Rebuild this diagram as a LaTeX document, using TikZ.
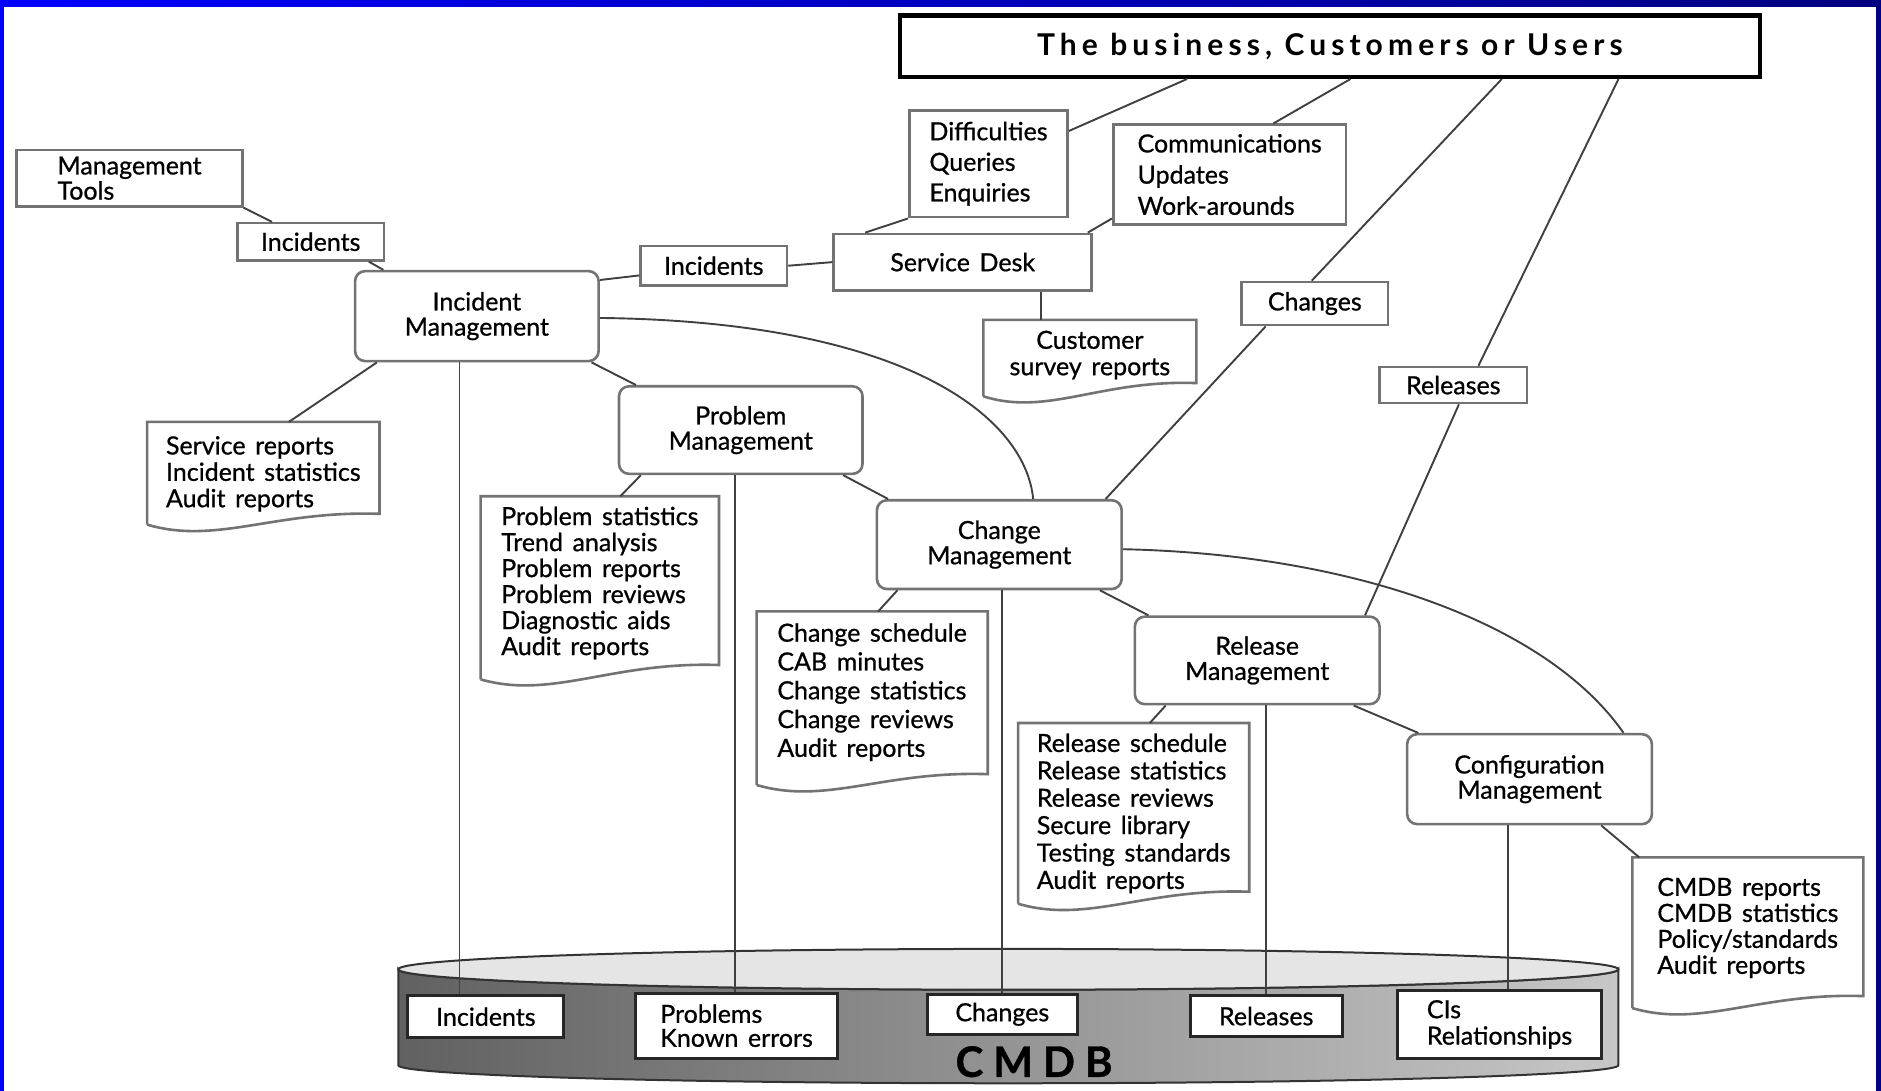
\documentclass[tikz,border=0pt]{standalone}
\usepackage{fontspec}
\setmainfont{Lato}[WordSpace={1.5},FakeBold=0.8]
\newfontfamily\bizfont{Lato}[LetterSpace=17]
\usetikzlibrary{calc}
\newcommand\docout[3]{%
  \draw[docline] ($(#1.south west)+(0,#2)$) -- (#1.north west) -- (#1.north east) -- ($(#1.south east)+(0,#3)$)
    .. controls ($(#1.south east)!0.45!(#1.south west)+(0,#3-3)$) and ($(#1.south east)!0.7!(#1.south west)+(0,#2+17)$) .. ($(#1.south west)+(0,#2)$);
}
\begin{document}
\begin{tikzpicture}[x=0.6pt,y=-0.6pt,
  sz/.style 2 args={minimum width=#1*0.6pt, minimum height=#2*0.6pt},
  bs/.style={font=\fontsize{12.5}{#1}\selectfont},
  plainbox/.style={draw=black!55, line width=1.3pt, fill=white, inner sep=0pt, align=left, bs=13.2pt},
  mgmt/.style={plainbox, rounded corners=5pt, align=center, bs=12.6pt},
  docnode/.style={inner sep=0pt, align=left, bs=13.2pt},
  docline/.style={draw=black!55, line width=1.3pt},
  dbbox/.style={plainbox, draw=black!85, line width=1.5pt},
  conn/.style={draw=black!75, line width=0.95pt}]
\useasboundingbox (0,0) rectangle (1568,909);
% frame
\fill[left color=blue, right color=blue!50!black] (0,0) rectangle (1568,909);
\fill[white] (3.3,5.8) rectangle (1563.5,909.5);
% CMDB cylinder
\path[draw=black!80, line width=1pt, left color=black!62, right color=black!22]
  (332,808) -- (332,888) arc[start angle=180, end angle=0, x radius=508.5, y radius=15]
  -- (1349,808) arc[start angle=0, end angle=180, x radius=508.5, y radius=17] -- cycle;
\draw[draw=black!80, line width=1pt, fill=black!10] (840.5,808) ellipse[x radius=508.5, y radius=17];
% nodes
\node[plainbox, sz={717}{51}, draw=black, line width=2.2pt, font=\bizfont\bfseries\fontsize{15}{15}\selectfont] (biz) at (1108.5,38.5) {The business, Customers or Users};
\node[plainbox, sz={132}{89}, bs=15.3pt] (diff) at (824,136.5) {Difficulties\\Queries\\Enquiries};
\node[plainbox, sz={194}{83}, bs=15.6pt] (comm) at (1025,145.5) {Communications\\Updates\\Work-arounds};
\node[plainbox, sz={188}{47}, bs=12.6pt] (mtools) at (108,148.5) {Management\\Tools};
\node[plainbox, sz={122}{31}] (inc1) at (259,201.5) {Incidents};
\node[plainbox, sz={122}{33}] (inc2) at (595,221.5) {Incidents};
\node[plainbox, sz={215}{47}] (sdesk) at (802.5,218.5) {Service Desk};
\node[plainbox, sz={122}{36}] (chg1) at (1096,253) {Changes};
\node[plainbox, sz={123}{30}] (rel1) at (1211.5,321) {Releases};
\node[mgmt, sz={203}{75}] (im) at (397.5,263.5) {Incident\\Management};
\node[mgmt, sz={203}{73}] (pm) at (617.5,358.5) {Problem\\Management};
\node[mgmt, sz={204}{74}] (cm) at (833,454) {Change\\Management};
\node[mgmt, sz={204}{73}] (rm) at (1048,550.5) {Release\\Management};
\node[mgmt, sz={204}{75}] (cfg) at (1275,649.5) {Configuration\\Management};
\node[docnode, sz={177}{58}, align=center] (survey) at (908.5,296) {Customer\\survey reports};
\node[docnode, sz={193}{86}] (srep) at (219.5,395) {Service reports\\Incident statistics\\Audit reports};
\node[docnode, sz={198}{144}, bs=13pt] (pstat) at (500,486) {Problem statistics\\Trend analysis\\Problem reports\\Problem reviews\\Diagnostic aids\\Audit reports};
\node[docnode, sz={192}{134}, bs=14.4pt] (csched) at (727,577) {Change schedule\\CAB minutes\\Change statistics\\Change reviews\\Audit reports};
\node[docnode, sz={192}{150}, bs=13.7pt] (rsched) at (945,678) {Release schedule\\Release statistics\\Release reviews\\Secure library\\Testing standards\\Audit reports};
\node[docnode, sz={192}{117}, bs=13pt] (cmdbrep) at (1457,773.5) {CMDB reports\\CMDB statistics\\Policy/standards\\Audit reports};
\node[dbbox, sz={130}{35}] (cinc) at (405,847.5) {Incidents};
\node[dbbox, sz={168}{54}, bs=12pt] (cprob) at (614,855) {Problems\\Known errors};
\node[dbbox, sz={125}{33}] (cchg) at (835.5,845.5) {Changes};
\node[dbbox, sz={127}{34}] (crel) at (1055.5,847) {Releases};
\node[dbbox, sz={170}{56}] (cci) at (1250,854) {CIs\\Relationships};
\node[inner sep=0pt, font=\bfseries\fontsize{21}{21}\selectfont] (cmdb) at (862,885) {C\hspace{5pt}M\hspace{5pt}D\hspace{5pt}B};
% document outlines
\docout{srep}{-1}{-10}
\docout{survey}{5}{-6}
\docout{pstat}{8}{-4}
\docout{csched}{10}{1}
\docout{rsched}{0}{-10}
\docout{cmdbrep}{8}{-2}
% vertical guides
\coordinate (v0) at (868,0);
\coordinate (v1) at (383,0);
\coordinate (v2) at (613,0);
\coordinate (v3) at (835,0);
\coordinate (v4) at (1055,0);
\coordinate (v5) at (1257,0);
% connectors
\draw[conn] ($(biz.south west)!0.335!(biz.south east)$) -- ($(diff.north east)!0.2!(diff.south east)$);
\draw[conn] ($(biz.south west)!0.524!(biz.south east)$) -- ($(comm.north west)!0.686!(comm.north east)$);
\draw[conn] ($(biz.south west)!0.699!(biz.south east)$) -- ($(chg1.north west)!0.48!(chg1.north east)$);
\draw[conn] ($(chg1.south west)!0.17!(chg1.south east)$) -- ($(cm.north west)!0.93!(cm.north east)$);
\draw[conn] ($(biz.south west)!0.834!(biz.south east)$) -- ($(rel1.north west)!0.667!(rel1.north east)$);
\draw[conn] ($(rel1.south west)!0.537!(rel1.south east)$) -- ($(rm.north west)!0.936!(rm.north east)$);
\draw[conn] (diff.south west) -- ($(sdesk.north west)!0.126!(sdesk.north east)$);
\draw[conn] ($(comm.north west)!0.93!(comm.south west)$) -- ($(sdesk.north west)!0.98!(sdesk.north east)$);
\draw[conn] (sdesk.west) -- (inc2.east);
\draw[conn] ($(inc2.north west)!0.73!(inc2.south west)$) -- ($(im.north east)!0.11!(im.south east)$);
\draw[conn] (sdesk.south -| v0) -- (survey.north -| v0);
\draw[conn] (mtools.south east) -- ($(inc1.north west)!0.24!(inc1.north east)$);
\draw[conn] ($(inc1.south west)!0.89!(inc1.south east)$) -- ($(im.north west)!0.12!(im.north east)$);
\draw[conn] ($(im.south west)!0.094!(im.south east)$) -- ($(srep.north west)!0.61!(srep.north east)$);
\draw[conn] ($(im.south west)!0.966!(im.south east)$) -- ($(pm.north west)!0.074!(pm.north east)$);
\draw[conn] ($(im.north east)!0.52!(im.south east)$) .. controls (760,268) and (855,350) .. ($(cm.north west)!0.637!(cm.north east)$);
\draw[conn] ($(pm.south west)!0.094!(pm.south east)$) -- ($(pstat.north west)!0.586!(pstat.north east)$);
\draw[conn] ($(pm.south west)!0.916!(pm.south east)$) -- ($(cm.north west)!0.05!(cm.north east)$);
\draw[conn] ($(cm.south west)!0.088!(cm.south east)$) -- ($(csched.north west)!0.526!(csched.north east)$);
\draw[conn] ($(cm.south west)!0.907!(cm.south east)$) -- ($(rm.north west)!0.06!(rm.north east)$);
\draw[conn] ($(cm.north east)!0.55!(cm.south east)$) .. controls (1130,462) and (1290,520) .. ($(cfg.north west)!0.88!(cfg.north east)$);
\draw[conn] ($(rm.south west)!0.13!(rm.south east)$) -- ($(rsched.north west)!0.57!(rsched.north east)$);
\draw[conn] ($(rm.south west)!0.89!(rm.south east)$) -- ($(cfg.north west)!0.05!(cfg.north east)$);
\draw[conn] ($(cfg.south west)!0.79!(cfg.south east)$) -- ($(cmdbrep.north west)!0.03!(cmdbrep.north east)$);
\draw[conn] (im.south -| v1) -- (cinc.north -| v1);
\draw[conn] (pm.south -| v2) -- (cprob.north -| v2);
\draw[conn] (cm.south -| v3) -- (cchg.north -| v3);
\draw[conn] (rm.south -| v4) -- (crel.north -| v4);
\draw[conn] (cfg.south -| v5) -- (cci.north -| v5);
\end{tikzpicture}
\end{document}
